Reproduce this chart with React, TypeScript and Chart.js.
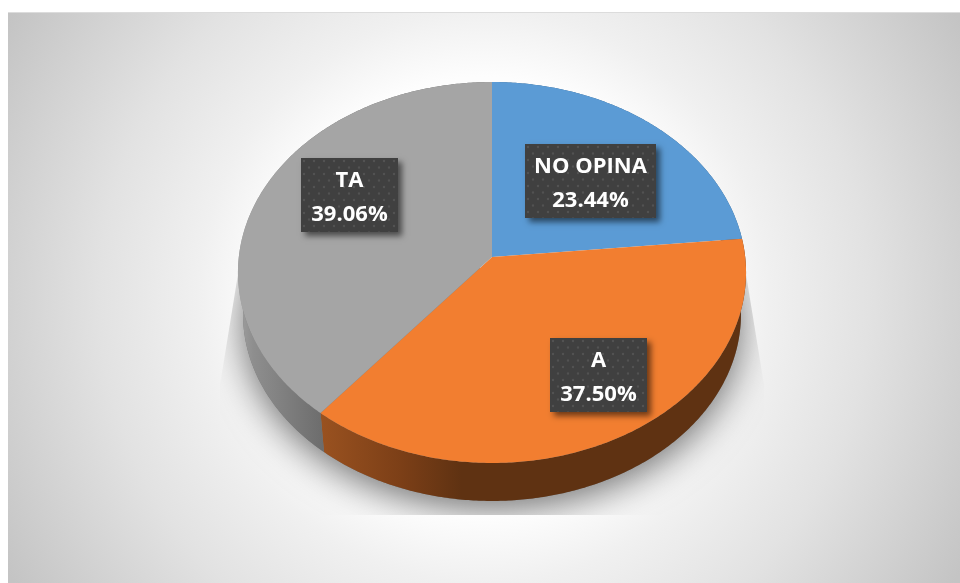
import React, { useEffect, useRef } from "react";
import { Chart, registerables, PieController, ArcElement } from "chart.js";

const categories = ["NO OPINA", "A", "TA"];
const shares = [23.44, 37.5, 39.06];
const faceColors = ["#5B9BD5", "#F27E30", "#A5A5A5"];

// Label box centres, one per slice.
const labelCentres = [
  [590.5, 181],
  [598.5, 375],
  [349.5, 195],
];
const labelWidths = [131, 97, 97];
const LABEL_HEIGHT = 74;

// Perspective of the tilted disc: the plane tips away from the viewer.
const TILT = 0.0814;
const SQUASH = 0.7472;
// The rim's lower edge is the top edge pulled down and slightly shrunk.
const RIM_SCALE = 0.98;
const RIM_DROP = 41.8;
const FACE_MID_Y = 272.5;

type Pt = [number, number];

function project(arc: any, theta: number, r = 1): Pt {
  const u = Math.cos(theta) * r;
  const v = Math.sin(theta) * r;
  const k = 1 / (1 - TILT * v);
  return [
    arc.x + arc.outerRadius * u * k,
    arc.y + arc.outerRadius * SQUASH * v * k,
  ];
}

function rimPoint(arc: any, p: Pt): Pt {
  return [
    arc.x + (p[0] - arc.x) * RIM_SCALE,
    FACE_MID_Y + RIM_DROP + (p[1] - FACE_MID_Y) * RIM_SCALE,
  ];
}

function sampleEdge(arc: any, from: number, to: number): Pt[] {
  const steps = Math.max(2, Math.ceil(Math.abs(to - from) / 0.01));
  const out: Pt[] = [];
  for (let i = 0; i <= steps; i++) {
    out.push(project(arc, from + ((to - from) * i) / steps));
  }
  return out;
}

class TiltedArc extends ArcElement {
  static id = "tiltedArc";
  static defaults = { ...ArcElement.defaults };
  draw(ctx: CanvasRenderingContext2D) {
    const { startAngle, endAngle } = this as any;
    ctx.save();
    ctx.beginPath();
    ctx.moveTo((this as any).x, (this as any).y);
    for (const [x, y] of sampleEdge(this, startAngle, endAngle)) ctx.lineTo(x, y);
    ctx.closePath();
    ctx.fillStyle = (this as any).options.backgroundColor;
    ctx.fill();
    ctx.restore();
  }
}

class TiltedPieController extends PieController {
  static id = "tiltedPie";
  static defaults = { ...PieController.defaults, dataElementType: "tiltedArc" };
}

Chart.register(...registerables, TiltedArc, TiltedPieController);

const backdrop = {
  id: "backdrop",
  beforeDraw(chart: any) {
    const { ctx, width, height } = chart;
    ctx.save();
    ctx.fillStyle = "#ffffff";
    ctx.fillRect(0, 0, width, height);
    const cx = 484;
    const cy = 297;
    const g = ctx.createRadialGradient(cx, cy, 0, cx, cy, 550);
    g.addColorStop(0, "#ffffff");
    g.addColorStop(0.4, "#fdfdfd");
    g.addColorStop(0.52, "#f0f0f0");
    g.addColorStop(0.7, "#e2e2e2");
    g.addColorStop(0.86, "#d2d2d2");
    g.addColorStop(1, "#c4c4c4");
    ctx.fillStyle = g;
    ctx.fillRect(8, 12, width - 8, height - 12);
    ctx.fillStyle = "#dcdcdc";
    ctx.fillRect(8, 12, width - 8, 1);
    ctx.restore();
  },
};

const rim = {
  id: "rim",
  beforeDatasetsDraw(chart: any) {
    const { ctx } = chart;
    const arcs = chart.getDatasetMeta(0).data;
    const first = arcs[0];
    const full = sampleEdge(first, 0, Math.PI * 2).map((p) => rimPoint(first, p));

    // Soft shadow cast below the disc, confined to a flared panel.
    ctx.save();
    ctx.beginPath();
    ctx.moveTo(239, 268);
    ctx.lineTo(745, 268);
    ctx.lineTo(764, 385);
    ctx.lineTo(764, 515);
    ctx.lineTo(220, 515);
    ctx.lineTo(220, 385);
    ctx.closePath();
    ctx.clip();
    ctx.shadowColor = "rgba(0,0,0,0.55)";
    ctx.shadowBlur = 36;
    ctx.shadowOffsetX = 0;
    ctx.shadowOffsetY = 9;
    ctx.fillStyle = "#777";
    ctx.beginPath();
    full.forEach(([x, y], i) => (i ? ctx.lineTo(x, y) : ctx.moveTo(x, y)));
    ctx.closePath();
    ctx.fill();
    ctx.restore();

    // Rim wall of each slice, shaded along the horizontal.
    arcs.forEach((arc: any, i: number) => {
      const edge = sampleEdge(arc, arc.startAngle, arc.endAngle);
      const lower = edge.map((p) => rimPoint(arc, p)).reverse();
      const g = ctx.createLinearGradient(238, 0, 746, 0);
      if (i === 1) {
        g.addColorStop(0, "#9a5220");
        g.addColorStop(0.16, "#9a5220");
        g.addColorStop(0.32, "#7c3f17");
        g.addColorStop(0.44, "#5f3212");
        g.addColorStop(1, "#5f3212");
      } else if (i === 2) {
        g.addColorStop(0, "#a0a0a0");
        g.addColorStop(0.03, "#8e8e8e");
        g.addColorStop(0.17, "#6c6c6c");
        g.addColorStop(1, "#6c6c6c");
      } else {
        g.addColorStop(0, "#2f5d85");
        g.addColorStop(1, "#2f5d85");
      }
      ctx.fillStyle = g;
      ctx.beginPath();
      [...edge, ...lower].forEach(([x, y], j) => (j ? ctx.lineTo(x, y) : ctx.moveTo(x, y)));
      ctx.closePath();
      ctx.fill();
    });
  },
};

function dotTile(): HTMLCanvasElement {
  const tile = document.createElement("canvas");
  tile.width = 10;
  tile.height = 13;
  const t = tile.getContext("2d")!;
  t.fillStyle = "#404040";
  t.fillRect(0, 0, 10, 13);
  t.fillStyle = "#525252";
  t.beginPath();
  t.arc(3, 3, 1.2, 0, Math.PI * 2);
  t.arc(8, 9.5, 1.2, 0, Math.PI * 2);
  t.fill();
  return tile;
}

const sliceLabels = {
  id: "sliceLabels",
  afterDatasetsDraw(chart: any) {
    const { ctx } = chart;
    const values = chart.data.datasets[0].data;
    const names = chart.data.labels;
    const fill = ctx.createPattern(dotTile(), "repeat");
    values.forEach((value: number, i: number) => {
      const [cx, cy] = labelCentres[i];
      const w = labelWidths[i];
      const left = Math.round(cx - w / 2);
      const top = Math.round(cy - LABEL_HEIGHT / 2);
      ctx.save();
      ctx.shadowColor = "rgba(0,0,0,0.55)";
      ctx.shadowBlur = 6;
      ctx.shadowOffsetX = 4;
      ctx.shadowOffsetY = 4;
      ctx.fillStyle = "#404040";
      ctx.fillRect(left, top, w, LABEL_HEIGHT);
      ctx.restore();
      ctx.save();
      ctx.fillStyle = fill;
      ctx.translate(left, top);
      ctx.fillRect(0, 0, w, LABEL_HEIGHT);
      ctx.restore();
      ctx.save();
      ctx.fillStyle = "#ffffff";
      ctx.font = "bold 22px 'Open Sans', sans-serif";
      ctx.textAlign = "center";
      ctx.textBaseline = "alphabetic";
      ctx.fillText(names[i], cx, top + 29);
      ctx.fillText(`${value.toFixed(2)}%`, cx, top + 63);
      ctx.restore();
    });
  },
};

export default function App() {
  const ref = useRef<HTMLCanvasElement>(null);
  useEffect(() => {
    const chart = new Chart(ref.current!, {
      type: "tiltedPie" as any,
      data: {
        labels: categories,
        datasets: [{ data: shares, backgroundColor: faceColors, borderWidth: 0 }],
      },
      options: {
        animation: false,
        responsive: false,
        radius: 253.2,
        layout: { padding: { left: 24, right: 0, top: 0, bottom: 69 } },
        plugins: { legend: { display: false }, tooltip: { enabled: false } },
      } as any,
      plugins: [backdrop, rim, sliceLabels],
    });
    return () => chart.destroy();
  }, []);
  return (
    <canvas
      ref={ref}
      width={960}
      height={583}
      style={{ position: "fixed", left: 0, top: 0, width: 960, height: 583, display: "block" }}
    />
  );
}
